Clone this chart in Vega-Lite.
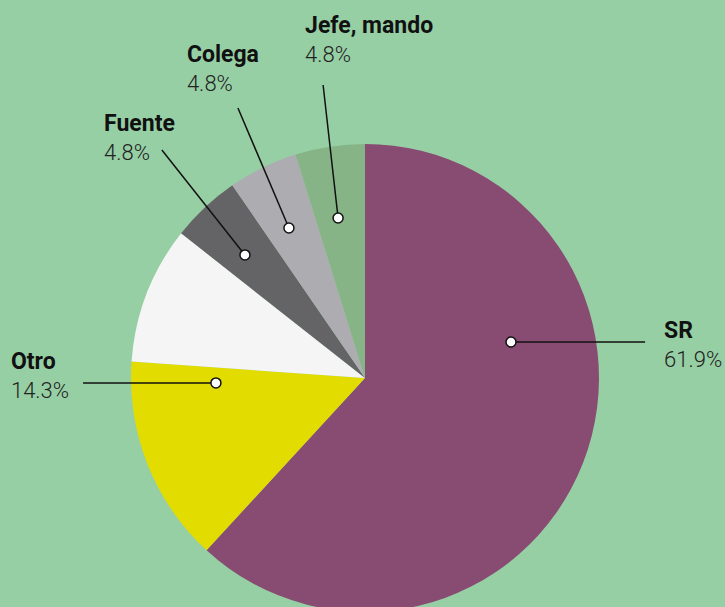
{
  "$schema": "https://vega.github.io/schema/vega-lite/v6.json",
  "width": 725,
  "height": 607,
  "padding": 0,
  "autosize": {"type": "none"},
  "background": "#97cfa5",
  "config": {"view": {"stroke": null}},
  "data": {
    "values": [
      {"cat": "SR", "share": 0.619, "ord": 1, "color": "#884b72", "dx": 0.624, "dy": 0.154, "ex": 1.197, "ey": 0.154, "lx": 1.278, "ly": 0.171},
      {"cat": "Otro", "share": 0.143, "ord": 2, "color": "#e2dc00", "dx": -0.637, "dy": -0.021, "ex": -1.205, "ey": -0.021, "lx": -1.513, "ly": 0.038},
      {"cat": "", "share": 0.095, "ord": 3, "color": "#f5f5f5"},
      {"cat": "Fuente", "share": 0.048, "ord": 4, "color": "#646466", "dx": -0.513, "dy": 0.526, "ex": -0.868, "ey": 0.974, "lx": -1.115, "ly": 1.056},
      {"cat": "Colega", "share": 0.048, "ord": 5, "color": "#adadb1", "dx": -0.325, "dy": 0.641, "ex": -0.543, "ey": 1.154, "lx": -0.761, "ly": 1.35},
      {"cat": "Jefe, mando", "share": 0.048, "ord": 6, "color": "#86b486", "dx": -0.115, "dy": 0.684, "ex": -0.179, "ey": 1.252, "lx": -0.256, "ly": 1.474}
    ]
  },
  "layer": [
    {
      "mark": {"type": "arc", "outerRadius": 234, "stroke": null},
      "encoding": {
        "x": {"datum": 0, "type": "quantitative", "scale": {"domain": [-1.5598, 1.5385], "nice": false, "zero": false}, "axis": null},
        "y": {"datum": 0, "type": "quantitative", "scale": {"domain": [-0.9786, 1.6154], "nice": false, "zero": false}, "axis": null},
        "theta": {"field": "share", "type": "quantitative", "stack": true},
        "order": {"field": "ord", "type": "quantitative"},
        "color": {"field": "color", "type": "nominal", "scale": null, "legend": null}
      }
    },
    {
      "transform": [{"filter": "datum.cat != ''"}],
      "mark": {"type": "rule", "color": "#111111", "strokeWidth": 1.5},
      "encoding": {
        "x": {"field": "dx", "type": "quantitative"},
        "y": {"field": "dy", "type": "quantitative"},
        "x2": {"field": "ex"},
        "y2": {"field": "ey"}
      }
    },
    {
      "transform": [{"filter": "datum.cat != ''"}],
      "mark": {"type": "point", "filled": true, "fill": "#ffffff", "stroke": "#111111", "strokeWidth": 1.5, "size": 100, "opacity": 1},
      "encoding": {
        "x": {"field": "dx", "type": "quantitative"},
        "y": {"field": "dy", "type": "quantitative"}
      }
    },
    {
      "transform": [{"filter": "datum.cat != ''"}],
      "mark": {"type": "text", "align": "left", "baseline": "alphabetic", "font": "Roboto", "fontWeight": "bold", "fontSize": 23, "color": "#111111"},
      "encoding": {
        "x": {"field": "lx", "type": "quantitative"},
        "y": {"field": "ly", "type": "quantitative"},
        "text": {"field": "cat"}
      }
    },
    {
      "transform": [{"filter": "datum.cat != ''"}],
      "mark": {"type": "text", "align": "left", "baseline": "alphabetic", "font": "Roboto", "fontWeight": 300, "fontSize": 22, "color": "#222222", "dy": 29},
      "encoding": {
        "x": {"field": "lx", "type": "quantitative"},
        "y": {"field": "ly", "type": "quantitative"},
        "text": {"field": "share", "type": "quantitative", "format": ".1%"}
      }
    }
  ]
}
